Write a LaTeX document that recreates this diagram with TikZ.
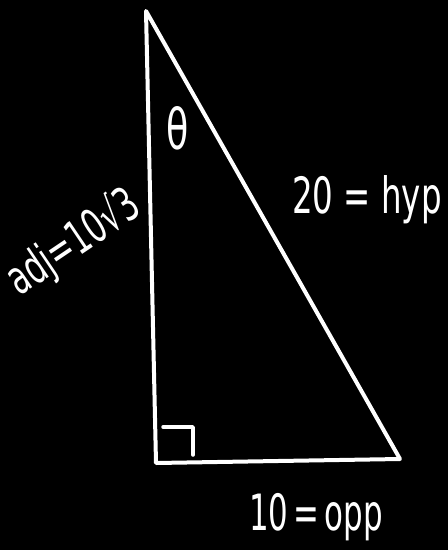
\documentclass[tikz,border=0pt]{standalone}
\usepackage{fontspec}
\setmainfont{DejaVu Sans}
\begin{document}
\begin{tikzpicture}[x=1pt,y=-1pt,
  edge/.style={white,line width=4pt,line join=round,line cap=round},
  lbl/.style={white,inner sep=0pt,xscale=0.65,font=\fontsize{50}{50}\selectfont}]
\fill[black] (0,0) rectangle (448,550);
\useasboundingbox (0,0) rectangle (448,550);
\coordinate (T) at (146,11);
\coordinate (BL) at (156,463);
\coordinate (BR) at (400,459);
\draw[edge] (T) -- (BL) -- (BR) -- cycle;
\coordinate (m1) at (163,427);
\coordinate (m2) at (193,427);
\coordinate (m3) at (193,455);
\draw[edge,line width=3.5pt] (m1) -- (m2) -- (m3);
\node[lbl,font=\fontsize{56}{56}\selectfont] (theta) at (178,128) {θ};
\node[lbl,anchor=base] (hyp) at (367,213) {20 = hyp};
\node[white,inner sep=0pt,font=\fontsize{47}{47}\selectfont,rotate=34] (adj) at (74,243) {\scalebox{0.65}[1]{adj=10√3}};
\node[lbl,anchor=base,xscale=0.95] (opp) at (316,530) {10\,=\,opp};
\end{tikzpicture}
\end{document}
